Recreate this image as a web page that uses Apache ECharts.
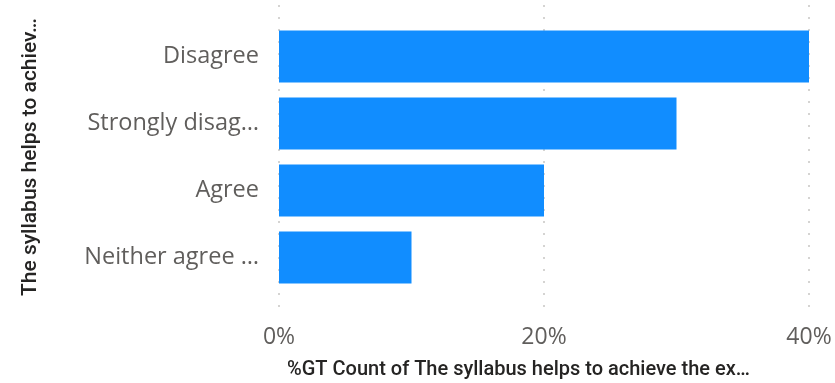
<!DOCTYPE html>
<html><head><meta charset="utf-8">
<script src="https://cdn.jsdelivr.net/npm/echarts@6/dist/echarts.min.js"></script>
<style>html,body{margin:0;padding:0;background:#fff}#c{width:835px;height:383px}</style>
</head><body><div id="c"></div>
<script>
const categories = ["Disagree", "Strongly disag\u2026", "Agree", "Neither agree \u2026"];
const values = [40, 30, 20, 10];
const xTicks = [0, 20, 40];
const yTitle = "The syllabus helps to achiev\u2026";
const xTitle = "%GT Count of The syllabus helps to achieve the ex\u2026";

const chart = echarts.init(document.getElementById('c'), null, {renderer: 'canvas'});
const font = '"Segoe UI", "Open Sans", sans-serif';
const tfont = 'Roboto, "Noto Sans", sans-serif';
chart.setOption({
  animation: false,
  title: {
    text: xTitle, left: 282, top: 355,
    textStyle: {fontFamily: tfont, fontSize: 20, fontWeight: 500, color: '#252423'}
  },
  grid: [
    {left: 279, right: 26, top: 5, bottom: 71},
    {left: 279, right: 26, top: 23, height: 268}
  ],
  xAxis: [
    {gridIndex: 0, type: 'value', min: xTicks[0], max: xTicks[xTicks.length-1], interval: 20,
     axisLine: {show: false}, axisTick: {show: false},
     axisLabel: {formatter: v => v + '%', fontSize: 23, color: '#605E5C', fontFamily: font, margin: 14},
     splitLine: {show: true, lineStyle: {type: [2, 10], color: '#C8C6C4', width: 1.5}}},
    {gridIndex: 1, type: 'value', min: xTicks[0], max: xTicks[xTicks.length-1], show: false}
  ],
  yAxis: [
    {gridIndex: 0, type: 'category', data: categories, show: false},
    {gridIndex: 1, type: 'category', data: categories, inverse: true,
     axisLine: {show: false}, axisTick: {show: false},
     axisLabel: {fontSize: 23.5, color: '#605E5C', fontFamily: font, margin: 20},
     name: yTitle, nameLocation: 'middle', nameGap: 238, nameRotate: 90,
     nameTextStyle: {fontSize: 21, color: '#252423', fontFamily: tfont, fontWeight: 500}}
  ],
  series: [{
    type: 'bar', xAxisIndex: 1, yAxisIndex: 1, data: values,
    barWidth: 52, itemStyle: {color: '#118DFF'}
  }]
});
</script></body></html>
